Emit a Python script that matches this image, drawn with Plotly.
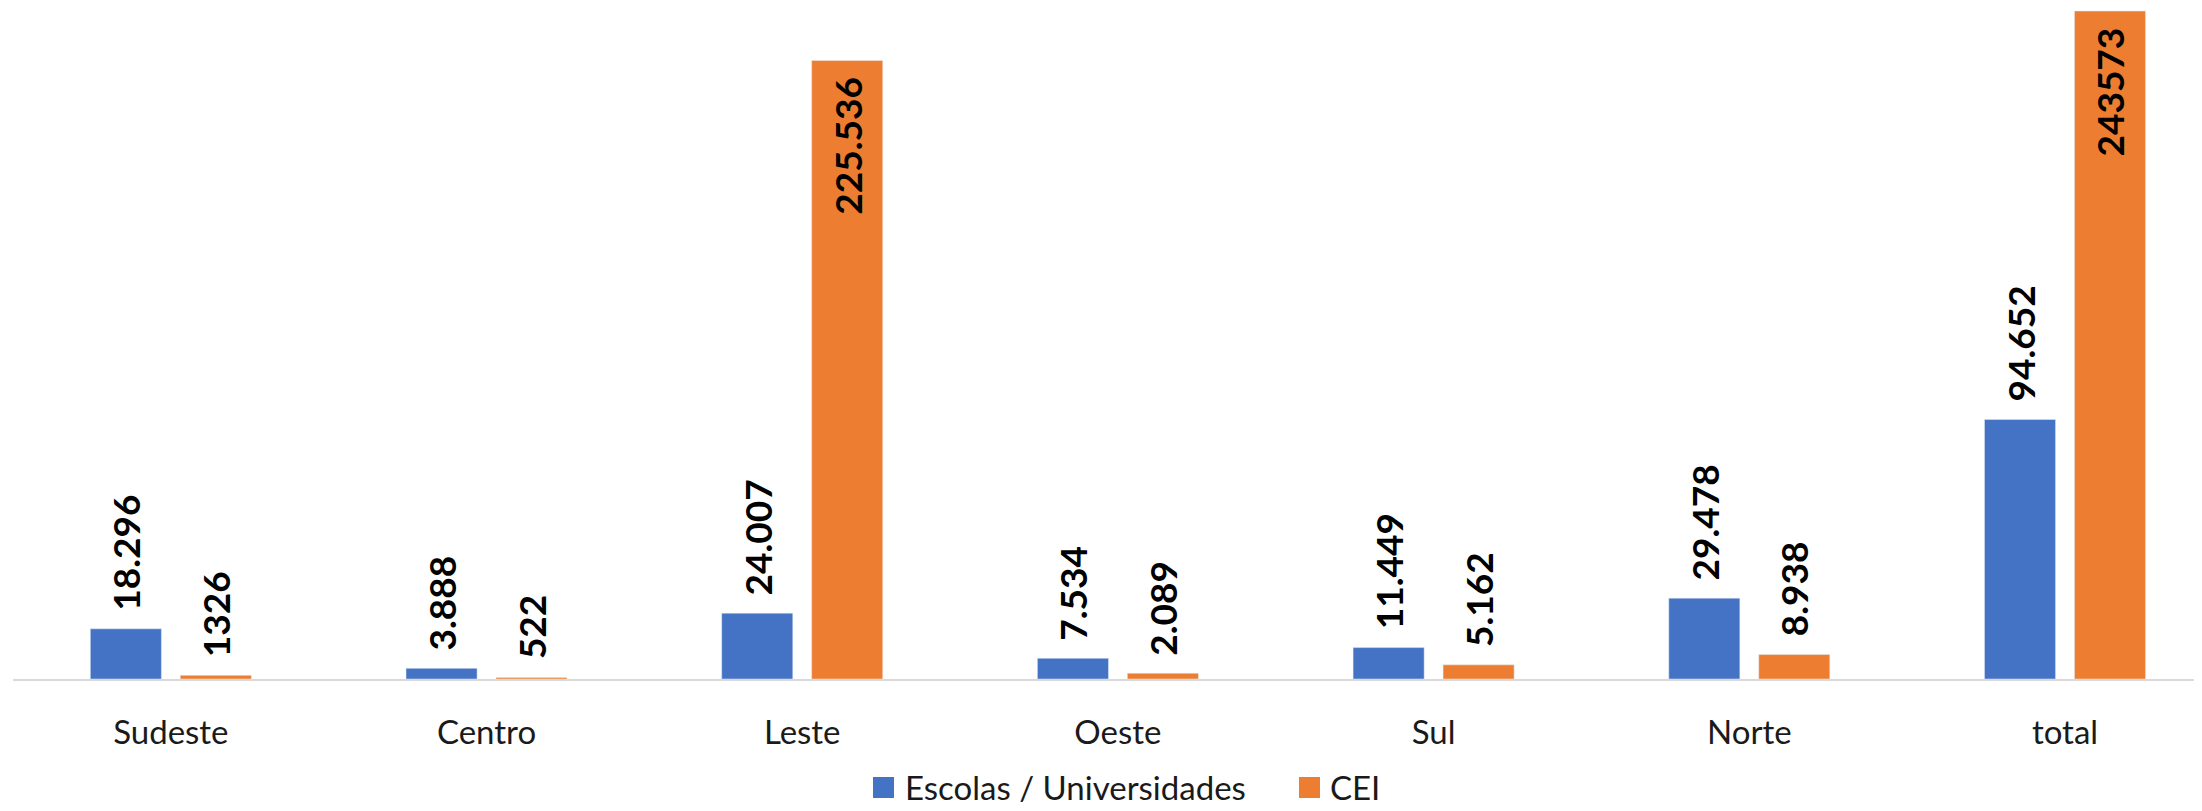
import plotly.graph_objects as go

categories = ["Sudeste", "Centro", "Leste", "Oeste", "Sul", "Norte", "total"]
escolas = [18296, 3888, 24007, 7534, 11449, 29478, 94652]
cei = [1326, 522, 225536, 2089, 5162, 8938, 243573]
escolas_labels = ["18.296", "3.888", "24.007", "7.534", "11.449", "29.478", "94.652"]
cei_labels = ["1326", "522", "225.536", "2.089", "5.162", "8.938", "243573"]
series_names = ["Escolas / Universidades", "CEI"]

BLUE = "#4472C4"
ORANGE = "#ED7D31"
FONT = "Lato"
TEXT = "#1a1a1a"

# figure geometry (page body adds an 8px offset)
W, H = 2194, 803
ML, MR, MT, MB = 5, 0, 0, 132
PW, PH = W - ML - MR, H - MT - MB


def px_x(px):
    return (px - ML) / PW


def px_y(py):
    return (H - MB - py) / PH


fig = go.Figure()
fig.add_trace(go.Bar(x=categories, y=escolas, name=series_names[0],
                     marker=dict(color=BLUE), showlegend=False))
fig.add_trace(go.Bar(x=categories, y=cei, name=series_names[1],
                     marker=dict(color=ORANGE), showlegend=False))

ymax = max(cei)
label_font = dict(family=FONT, size=37, color="#000000", weight="bold")
annotations = []
for cat, v, t in zip(categories, escolas, escolas_labels):
    annotations.append(dict(x=cat, y=v, text=t, showarrow=False, textangle=-90,
                            xshift=-45, yshift=16, yanchor="bottom", xanchor="center",
                            font=label_font))
for cat, v, t in zip(categories, cei, cei_labels):
    inside = v > 0.5 * ymax
    annotations.append(dict(x=cat, y=v, text=t, showarrow=False, textangle=-90,
                            xshift=45, yshift=-14 if inside else 16,
                            yanchor="top" if inside else "bottom", xanchor="center",
                            font=label_font))

# manual legend (square swatches + text)
shapes = []
legend_items = [(series_names[0], BLUE, 865, 897), (series_names[1], ORANGE, 1291, 1322)]
for name, color, sx, tx in legend_items:
    shapes.append(dict(type="rect", xref="paper", yref="paper",
                       x0=px_x(sx), x1=px_x(sx + 21), y0=px_y(790), y1=px_y(769),
                       fillcolor=color, line=dict(width=0)))
    annotations.append(dict(xref="paper", yref="paper", x=px_x(tx - 1), y=px_y(779),
                            xanchor="left", yanchor="middle", showarrow=False, text=name,
                            borderpad=0,
                            font=dict(family=FONT, size=33, color=TEXT)))

fig.update_layout(
    width=W, height=H,
    margin=dict(l=ML, r=MR, t=MT, b=MB),
    paper_bgcolor="white", plot_bgcolor="white",
    barmode="group", bargap=0.43, bargroupgap=0.21,
    font=dict(family=FONT, color=TEXT),
    annotations=annotations,
    shapes=shapes,
    showlegend=False,
    xaxis=dict(type="category", range=[-0.5, 6.434], showline=True, linecolor="#D9D9D9",
               linewidth=2, ticks="", showgrid=False, zeroline=False,
               tickfont=dict(family=FONT, size=33, color=TEXT), ticklabelstandoff=23),
    yaxis=dict(visible=False, range=[0, ymax * PH / 668], showgrid=False, zeroline=False),
)

fig.write_html("out.html")
